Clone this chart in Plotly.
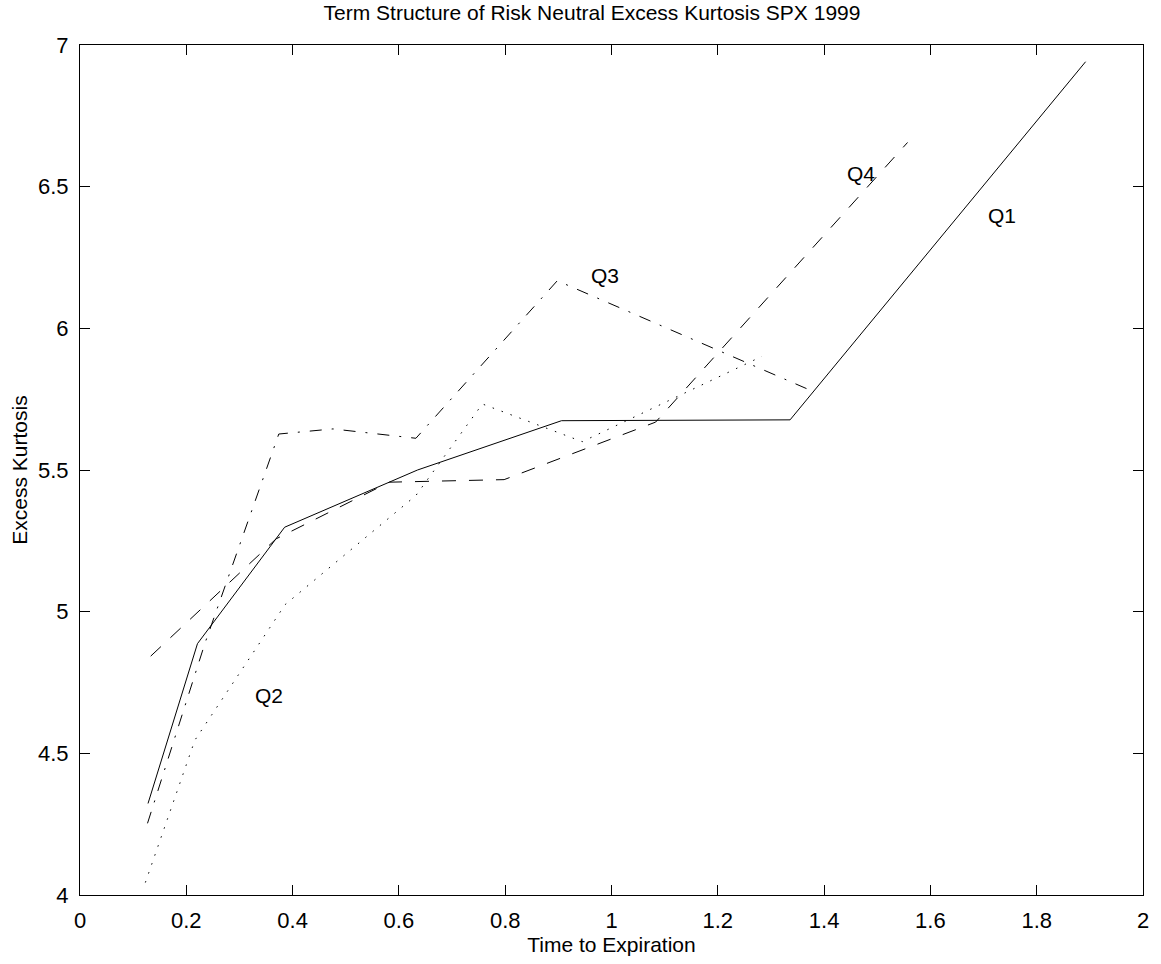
import plotly.graph_objects as go

# ---- data ----
t_q1 = [0.128, 0.221, 0.385, 0.635, 0.906, 1.336, 1.892]
k_q1 = [4.323, 4.887, 5.298, 5.500, 5.674, 5.677, 6.941]

t_q2 = [0.123, 0.216, 0.386, 0.632, 0.757, 0.945, 1.283]
k_q2 = [4.044, 4.546, 5.025, 5.410, 5.733, 5.600, 5.901]

t_q3 = [0.127, 0.235, 0.374, 0.476, 0.632, 0.898, 1.371]
k_q3 = [4.253, 4.888, 5.627, 5.645, 5.612, 6.168, 5.784]

t_q4 = [0.133, 0.369, 0.582, 0.798, 1.083, 1.557]
k_q4 = [4.843, 5.257, 5.457, 5.466, 5.669, 6.656]

label_names = ["Q1", "Q2", "Q3", "Q4"]
label_t = [1.735, 0.355, 0.988, 1.470]
label_k = [6.397, 4.703, 6.185, 6.548]

x_ticks = [0, 0.2, 0.4, 0.6, 0.8, 1, 1.2, 1.4, 1.6, 1.8, 2]
y_ticks = [4, 4.5, 5, 5.5, 6, 6.5, 7]

FONT = "Liberation Sans, Arial, Helvetica, sans-serif"

fig = go.Figure()
series = [
    (t_q1, k_q1, "solid", "Q1"),
    (t_q2, k_q2, "1.5px,8px", "Q2"),
    (t_q3, k_q3, "12px,10px,2px,10px", "Q3"),
    (t_q4, k_q4, "14px,13px", "Q4"),
]
for xs, ys, dash, name in series:
    fig.add_trace(go.Scatter(
        x=xs, y=ys, mode="lines", name=name,
        line=dict(color="black", width=1, dash=dash),
        showlegend=False, hoverinfo="x+y+name",
    ))

for name, xv, yv in zip(label_names, label_t, label_k):
    fig.add_annotation(x=xv, y=yv, text=name, showarrow=False,
                       xanchor="center", yanchor="middle",
                       font=dict(family=FONT, size=21, color="black"))

axis_common = dict(
    showline=True, linecolor="black", linewidth=1, mirror="ticks",
    ticks="inside", ticklen=10, tickwidth=1, tickcolor="black",
    showgrid=False, zeroline=False,
    tickfont=dict(family=FONT, size=22, color="black"),
)

fig.update_layout(
    width=1161, height=964,
    margin=dict(l=80, r=16, t=45, b=67, pad=0),
    paper_bgcolor="white", plot_bgcolor="white",
    title=dict(text="Term Structure of Risk Neutral Excess Kurtosis SPX 1999",
               x=592 / 1161, xref="container", xanchor="center",
               y=1 - 13 / 964, yref="container", yanchor="middle",
               font=dict(family=FONT, size=21, color="black")),
    xaxis=dict(range=[0, 2], tickvals=x_ticks, ticklabelstandoff=6,
               title=dict(text="Time to Expiration", standoff=4,
                          font=dict(family=FONT, size=21, color="black")),
               **axis_common),
    yaxis=dict(range=[4, 7], tickvals=y_ticks, ticklabelstandoff=6,
               title=dict(text="Excess Kurtosis", standoff=4,
                          font=dict(family=FONT, size=21, color="black")),
               **axis_common),
)

fig.write_html("out.html",
               config={"displayModeBar": False},
               post_script="document.body.style.margin='0';document.body.style.overflow='hidden';")
